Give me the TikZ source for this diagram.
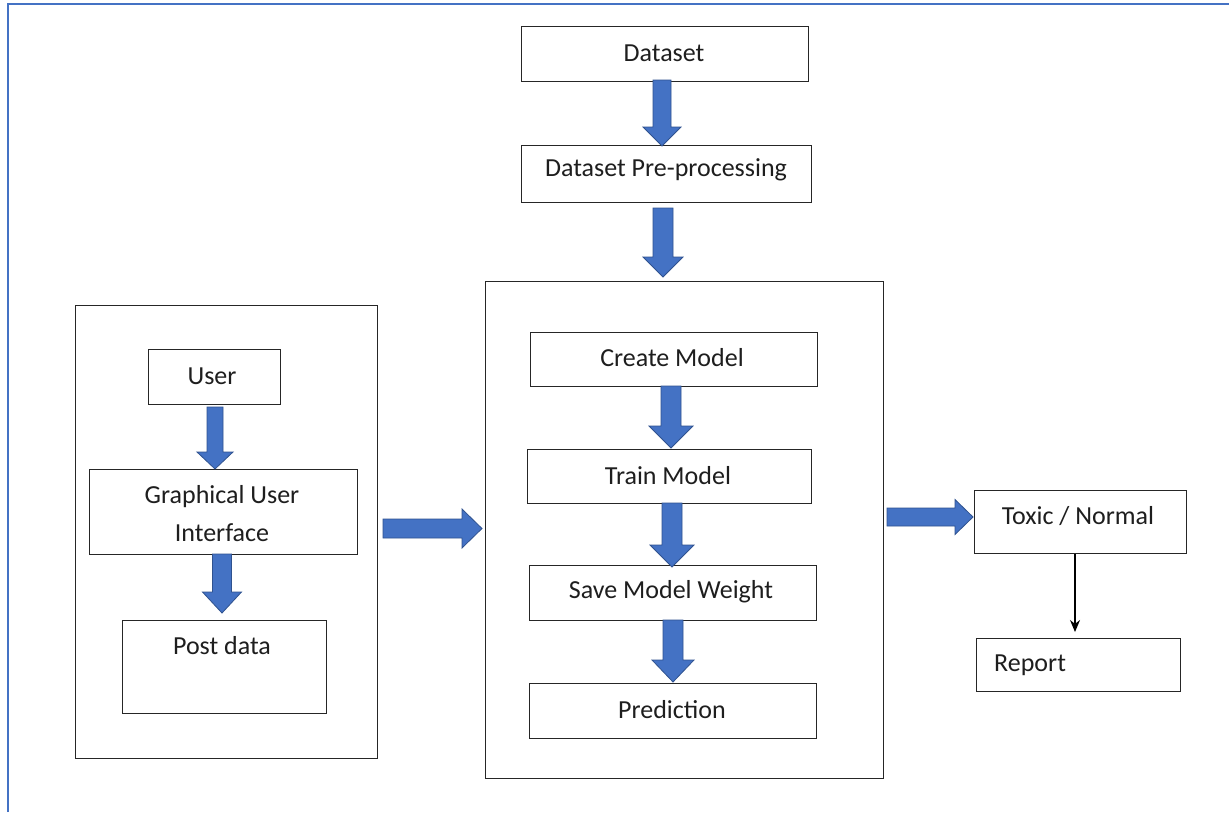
\documentclass[tikz,border=0pt]{standalone}
\usepackage{fontspec}
\setmainfont{Carlito}
\usetikzlibrary{arrows.meta}
\definecolor{blk}{HTML}{4472C4}
\definecolor{blkline}{HTML}{2F528F}
\definecolor{txt}{HTML}{1E1E1E}
\newcommand{\vblock}[6]{% cx, top, bottom, shaft half width, head half width, head length
  \filldraw[blockarrow] (#1-#4,#2) -- (#1+#4,#2) -- (#1+#4,#3-#6) -- (#1+#5,#3-#6) -- (#1,#3) -- (#1-#5,#3-#6) -- (#1-#4,#3-#6) -- cycle;}
\newcommand{\hblock}[6]{% cy, left, right, shaft half width, head half width, head length
  \filldraw[blockarrow] (#2,#1-#4) -- (#3-#6,#1-#4) -- (#3-#6,#1-#5) -- (#3,#1) -- (#3-#6,#1+#5) -- (#3-#6,#1+#4) -- (#2,#1+#4) -- cycle;}
\begin{document}
\begin{tikzpicture}[x=1pt,y=-1pt,
  box/.style={draw=black!85, line width=1.1pt, rectangle, inner sep=0pt, anchor=north west},
  lbl/.style={text=txt, font=\fontsize{26}{31}\selectfont, inner sep=0pt, align=center},
  blockarrow/.style={fill=blk, draw=blkline, line width=0.8pt, line join=miter}]
\useasboundingbox (0,0) rectangle (1229,812);
\fill[white] (0,0) rectangle (1229,812);
% outer frame (top and left edges visible)
\draw[color=blk, line width=2pt] (8,812) -- (8,4) -- (1229,4);

% boxes
\node[box, minimum width=287, minimum height=55] (ds) at (521,26) {};
\node[box, minimum width=290, minimum height=57] (pre) at (521,145) {};
\node[box, minimum width=398, minimum height=497] (mid) at (485,281) {};
\node[box, minimum width=287, minimum height=54] (cm) at (530,332) {};
\node[box, minimum width=284, minimum height=54] (tm) at (527,449) {};
\node[box, minimum width=287, minimum height=55] (sw) at (529,565) {};
\node[box, minimum width=287, minimum height=55] (pr) at (529,683) {};
\node[box, minimum width=302, minimum height=453] (left) at (75,305) {};
\node[box, minimum width=132, minimum height=55] (usr) at (148,349) {};
\node[box, minimum width=268, minimum height=85] (gui) at (89,469) {};
\node[box, minimum width=204, minimum height=93] (post) at (122,620) {};
\node[box, minimum width=212, minimum height=63] (tox) at (974,490) {};
\node[box, minimum width=204, minimum height=53] (rep) at (976,638) {};

% labels
\node[lbl] (dsT) at (664,53) {Dataset};
\node[lbl] (preT) at (666,170) {Dataset Pre-processing};
\node[lbl] (cmT) at (672,358) {Create Model};
\node[lbl] (tmT) at (668,476) {Train Model};
\node[lbl] (swT) at (671,592) {Save Model Weight};
\node[lbl] (prT) at (672,710) {Prediction};
\node[lbl] (usrT) at (212,376) {User};
\node[lbl] (guiT1) at (222,497) {Graphical User};
\node[lbl] (guiT2) at (222,533) {Interface};
\node[lbl] (postT) at (222,646) {Post data};
\node[lbl] (toxT) at (1078,516) {Toxic / Normal};
\node[lbl, anchor=west] (repT) at (994,665) {Report};

% block arrows
\vblock{662}{80}{146}{9}{19}{19}
\vblock{663}{208}{277}{10}{20}{20}
\vblock{671}{386}{448}{10}{22}{22}
\vblock{672}{503}{567}{10}{22}{22}
\vblock{673}{620}{682}{10}{21}{22}
\vblock{215}{407}{469}{8}{18}{17}
\vblock{222}{554}{613}{9.5}{19.5}{21}
\hblock{528.5}{383}{482}{9.5}{19.5}{20}
\hblock{517}{887}{973}{9}{17.5}{18}

% thin arrow
\coordinate (repTop) at (1075,632);
\draw[line width=1.1pt, -{Stealth[length=12pt,width=10pt]}] (tox.south -| repTop) -- (repTop);
\end{tikzpicture}
\end{document}
